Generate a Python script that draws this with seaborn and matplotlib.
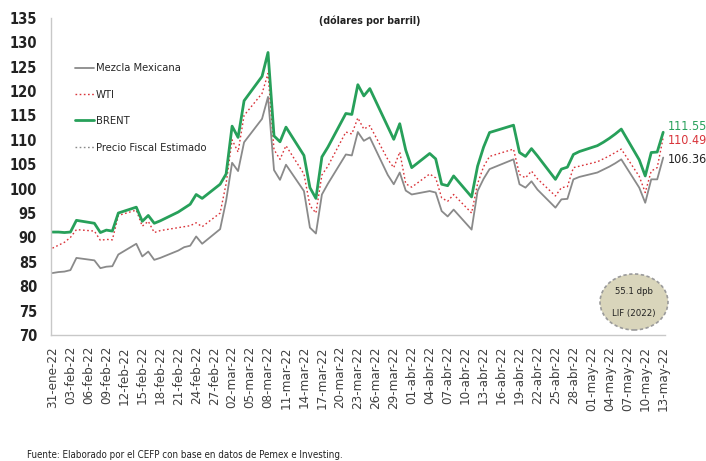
import matplotlib
matplotlib.use("Agg")
import matplotlib.pyplot as plt
from matplotlib.patches import Ellipse
import pandas as pd
import seaborn as sns

# Daily quotes (US dollars per barrel)
fechas = [
    "2022-01-31", "2022-02-01", "2022-02-02", "2022-02-03", "2022-02-04",
    "2022-02-07", "2022-02-08", "2022-02-09", "2022-02-10", "2022-02-11",
    "2022-02-14", "2022-02-15", "2022-02-16", "2022-02-17", "2022-02-18",
    "2022-02-21", "2022-02-22", "2022-02-23", "2022-02-24", "2022-02-25",
    "2022-02-28", "2022-03-01", "2022-03-02", "2022-03-03", "2022-03-04",
    "2022-03-07", "2022-03-08", "2022-03-09", "2022-03-10", "2022-03-11",
    "2022-03-14", "2022-03-15", "2022-03-16", "2022-03-17", "2022-03-18",
    "2022-03-21", "2022-03-22", "2022-03-23", "2022-03-24", "2022-03-25",
    "2022-03-28", "2022-03-29", "2022-03-30", "2022-03-31", "2022-04-01",
    "2022-04-04", "2022-04-05", "2022-04-06", "2022-04-07", "2022-04-08",
    "2022-04-11", "2022-04-12", "2022-04-13", "2022-04-14", "2022-04-18",
    "2022-04-19", "2022-04-20", "2022-04-21", "2022-04-22", "2022-04-25",
    "2022-04-26", "2022-04-27", "2022-04-28", "2022-04-29", "2022-05-02",
    "2022-05-03", "2022-05-04", "2022-05-05", "2022-05-06", "2022-05-09",
    "2022-05-10", "2022-05-11", "2022-05-12", "2022-05-13",
]

brent = [
    91.1, 91.1, 91.0, 91.1, 93.5,
    92.9, 91.0, 91.5, 91.3, 95.0,
    96.2, 93.3, 94.5, 92.9, 93.4,
    95.2, 96.0, 96.8, 98.8, 98.0,
    100.9, 103.0, 112.8, 110.5, 118.0,
    123.0, 127.9, 110.8, 109.6, 112.6,
    106.8, 100.2, 98.0, 106.5, 108.5,
    115.4, 115.2, 121.3, 119.0, 120.5,
    112.7, 110.1, 113.3, 107.9, 104.3,
    107.2, 106.1, 100.9, 100.6, 102.6,
    98.3, 104.6, 108.5, 111.5, 113.0,
    107.4, 106.6, 108.2, 106.7, 101.9,
    104.0, 104.4, 107.0, 107.6, 108.8,
    109.5, 110.3, 111.2, 112.2, 105.9,
    102.6, 107.4, 107.5, 111.55,
]

wti = [
    87.8, 88.4, 89.0, 90.0, 91.6,
    91.3, 89.4, 89.6, 89.5, 94.5,
    95.6, 92.3, 93.3, 91.0, 91.4,
    92.0, 92.2, 92.4, 93.0, 92.2,
    95.0, 101.0, 110.0, 107.5, 115.0,
    119.5, 123.6, 108.0, 106.0, 108.8,
    103.0, 96.5, 95.0, 102.8, 104.6,
    111.6, 111.2, 114.5, 112.2, 112.9,
    106.0, 104.3, 107.5, 101.0, 100.3,
    103.0, 102.2, 98.1, 97.4, 98.8,
    95.0, 101.0, 104.5, 106.6, 108.1,
    102.9, 102.2, 103.6, 102.0, 98.5,
    100.2, 100.4, 104.3, 104.6, 105.5,
    106.1, 106.7, 107.4, 108.1, 102.5,
    99.2, 103.6, 104.3, 110.49,
]

mezcla = [
    82.7, 82.9, 83.0, 83.3, 85.8,
    85.3, 83.7, 84.0, 84.1, 86.5,
    88.7, 86.1, 87.1, 85.4, 85.8,
    87.3, 88.0, 88.3, 90.2, 88.7,
    91.7, 97.5, 105.3, 103.6, 109.5,
    114.3, 118.8, 103.8, 101.8, 104.9,
    99.5, 92.0, 90.8, 98.8, 101.0,
    107.0, 106.8, 111.6, 109.8, 110.5,
    102.8, 100.9, 103.3, 99.6, 98.8,
    99.5, 99.2, 95.4, 94.3, 95.7,
    91.6, 99.5, 102.0, 104.0, 106.0,
    100.9, 100.2, 101.5, 99.8, 96.1,
    97.8, 97.9, 101.9, 102.4, 103.3,
    103.9, 104.5, 105.2, 106.0, 100.2,
    97.1, 101.9, 101.9, 106.36,
]

# Oil price assumed in the 2022 revenue law (LIF)
precio_fiscal = 55.1

etiquetas_x = [
    "31-ene-22", "03-feb-22", "06-feb-22", "09-feb-22", "12-feb-22",
    "15-feb-22", "18-feb-22", "21-feb-22", "24-feb-22", "27-feb-22",
    "02-mar-22", "05-mar-22", "08-mar-22", "11-mar-22", "14-mar-22",
    "17-mar-22", "20-mar-22", "23-mar-22", "26-mar-22", "29-mar-22",
    "01-abr-22", "04-abr-22", "07-abr-22", "10-abr-22", "13-abr-22",
    "16-abr-22", "19-abr-22", "22-abr-22", "25-abr-22", "28-abr-22",
    "01-may-22", "04-may-22", "07-may-22", "10-may-22", "13-may-22",
]
meses = {"ene": 1, "feb": 2, "mar": 3, "abr": 4, "may": 5}

nombres = ["Mezcla Mexicana", "WTI", "BRENT", "Precio Fiscal Estimado"]
colores = ["#8a8a8a", "#d9343a", "#27a05a", "#8a8a8a"]

sns.set_theme(style="white")
plt.rcParams["font.family"] = ["DejaVu Sans"]
plt.rcParams["font.stretch"] = "condensed"

df = pd.DataFrame({
    "fecha": pd.to_datetime(fechas),
    nombres[0]: mezcla,
    nombres[1]: wti,
    nombres[2]: brent,
})
df[nombres[3]] = precio_fiscal

fig = plt.figure(figsize=(7.06, 4.61), dpi=100)
ax = fig.add_axes([0.0722, 0.2733, 0.870, 0.688])

estilos = {
    nombres[0]: dict(linewidth=1.3, linestyle="-"),
    nombres[1]: dict(linewidth=1.0, linestyle=(0, (1.2, 1.8))),
    nombres[2]: dict(linewidth=2.0, linestyle="-"),
    nombres[3]: dict(linewidth=1.0, linestyle=(0, (1.2, 1.8))),
}
for nombre, color in zip(nombres, colores):
    sns.lineplot(data=df, x="fecha", y=nombre, ax=ax, color=color,
                 label=nombre, **estilos[nombre])

fechas_ticks = [
    pd.Timestamp(2000 + int(t[7:9]), meses[t[3:6]], int(t[0:2]))
    for t in etiquetas_x
]
ax.set_xticks(fechas_ticks)
ax.set_xticklabels(etiquetas_x, rotation=90, fontsize=9.5, color="#404040",
                   va="top", ha="center")
ax.set_xlim(pd.Timestamp("2022-01-31") - pd.Timedelta(hours=6),
            pd.Timestamp("2022-05-13") + pd.Timedelta(hours=8))
ax.set_ylim(70, 135)
ax.set_yticks(range(70, 136, 5))
ax.tick_params(axis="y", labelsize=10.5, length=0, pad=10, colors="#222222")
ax.tick_params(axis="x", length=0, pad=8)
for lbl in ax.get_yticklabels():
    lbl.set_fontweight("bold")
ax.set_xlabel("")
ax.set_ylabel("")

for s in ["top", "right"]:
    ax.spines[s].set_visible(False)
for s in ["left", "bottom"]:
    ax.spines[s].set_color("#c8c8c8")
    ax.spines[s].set_linewidth(1.0)

ax.legend(loc="upper left", bbox_to_anchor=(0.100, 0.872),
          bbox_transform=fig.transFigure, frameon=False, fontsize=8,
          handlelength=1.7, handletextpad=0.15, labelspacing=1.48,
          borderaxespad=0)

# Closing values at the right end of each series
ultimo = df["fecha"].iloc[-1]
for nombre, color, dy in [(nombres[2], "#27a05a", 6),
                          (nombres[1], "#d9343a", -3),
                          (nombres[0], "#222222", -2)]:
    v = df[nombre].iloc[-1]
    ax.annotate(f"{v:.2f}", xy=(ultimo, v), xytext=(5, dy),
                textcoords="offset pixels", color=color, fontsize=9,
                ha="left", va="center", annotation_clip=False)

fig.text(0.523, 0.955, "(dólares por barril)", ha="center", va="center",
         fontsize=7.6, fontweight="bold", color="#222222")

elipse = Ellipse((634 / 706, 1 - 302 / 461), 68 / 706, 56 / 461,
                 transform=fig.transFigure, facecolor="#d9d5bb",
                 edgecolor="#9a9a9a", linewidth=1.2, linestyle=(0, (2, 1.5)))
fig.add_artist(elipse)
fig.text(634 / 706, 1 - 292 / 461, "55.1 dpb", ha="center", va="center",
         fontsize=6.8, color="#222222")
fig.text(634 / 706, 1 - 313 / 461, "LIF (2022)", ha="center", va="center",
         fontsize=6.8, color="#222222")

fig.text(27 / 706, 1 - 455 / 461,
         "Fuente: Elaborado por el CEFP con base en datos de Pemex e Investing.",
         ha="left", va="center", fontsize=7.0, color="#222222")

fig.savefig("out.png", dpi=100)
